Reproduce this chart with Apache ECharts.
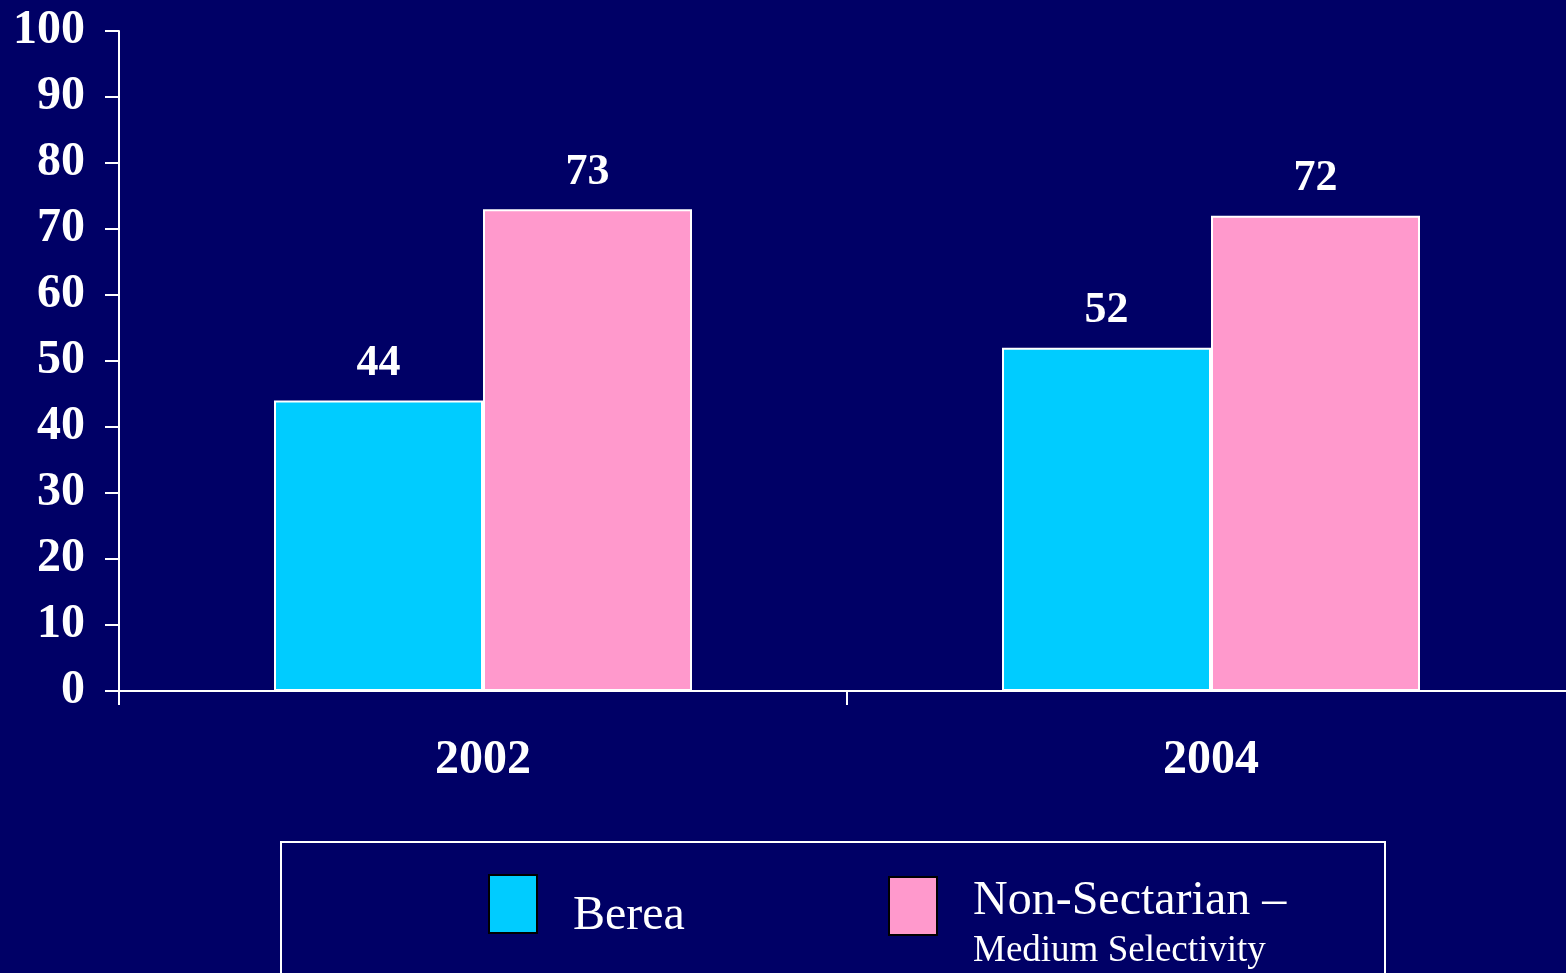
<!DOCTYPE html>
<html>
<head>
<meta charset="utf-8">
<script src="https://cdn.jsdelivr.net/npm/echarts@6/dist/echarts.min.js"></script>
<style>
html,body{margin:0;padding:0;background:#000066;overflow:hidden;}
#chart{width:1575px;height:973px;}
</style>
</head>
<body>
<div id="chart"></div>
<script>
var categories = ['2002', '2004'];
var seriesNames = ['Berea', 'Non-Sectarian –'];
var legendSubtitle = 'Medium Selectivity';
var bereaValues = [44, 52];
var nonSectarianValues = [73, 72];
var yMin = 0, yMax = 100, yStep = 10;

var FONT = '"Liberation Serif", "Times New Roman", serif';
var chart = echarts.init(document.getElementById('chart'));

var labelStyle = {
  show: true, position: 'top', distance: 15,
  color: '#ffffff', fontFamily: FONT, fontWeight: 'bold', fontSize: 44
};

chart.setOption({
  backgroundColor: '#000066',
  animation: false,
  grid: { left: 119, right: 0, top: 31, bottom: 282, containLabel: false },
  xAxis: {
    type: 'category',
    data: categories,
    axisLine: { lineStyle: { color: '#ffffff', width: 2 } },
    axisTick: { show: true, length: 14, alignWithLabel: false, lineStyle: { color: '#ffffff', width: 2 } },
    axisLabel: { color: '#ffffff', fontFamily: FONT, fontWeight: 'bold', fontSize: 48, margin: 46 },
    splitLine: { show: false }
  },
  yAxis: {
    type: 'value',
    min: yMin, max: yMax, interval: yStep,
    axisLine: { show: true, lineStyle: { color: '#ffffff', width: 2 } },
    axisTick: { show: true, length: 14, lineStyle: { color: '#ffffff', width: 2 } },
    axisLabel: { color: '#ffffff', fontFamily: FONT, fontWeight: 'bold', fontSize: 48, margin: 34 },
    splitLine: { show: false }
  },
  series: [
    {
      name: seriesNames[0], type: 'bar', data: bereaValues,
      barWidth: 209, barGap: '0%',
      itemStyle: { color: '#00CCFF', borderColor: '#ffffff', borderWidth: 2 },
      label: labelStyle
    },
    {
      name: seriesNames[1], type: 'bar', data: nonSectarianValues,
      barWidth: 209, barGap: '0%',
      itemStyle: { color: '#FF99CC', borderColor: '#ffffff', borderWidth: 2 },
      label: labelStyle
    }
  ],
  graphic: [
    { type: 'rect', shape: { x: 281, y: 842, width: 1104, height: 160 },
      style: { fill: 'none', stroke: '#ffffff', lineWidth: 2 } },
    { type: 'rect', shape: { x: 489, y: 875, width: 48, height: 58 },
      style: { fill: '#00CCFF', stroke: '#000000', lineWidth: 2 } },
    { type: 'text', x: 573, y: 916,
      style: { text: seriesNames[0], fill: '#ffffff', font: '48px ' + FONT, textVerticalAlign: 'middle', verticalAlign: 'middle' } },
    { type: 'rect', shape: { x: 889, y: 877, width: 48, height: 58 },
      style: { fill: '#FF99CC', stroke: '#000000', lineWidth: 2 } },
    { type: 'text', x: 973, y: 901,
      style: { text: seriesNames[1], fill: '#ffffff', font: '48px ' + FONT, textVerticalAlign: 'middle', verticalAlign: 'middle' } },
    { type: 'text', x: 973, y: 951,
      style: { text: legendSubtitle, fill: '#ffffff', font: '37px ' + FONT, textVerticalAlign: 'middle', verticalAlign: 'middle' } }
  ]
});
</script>
</body>
</html>
